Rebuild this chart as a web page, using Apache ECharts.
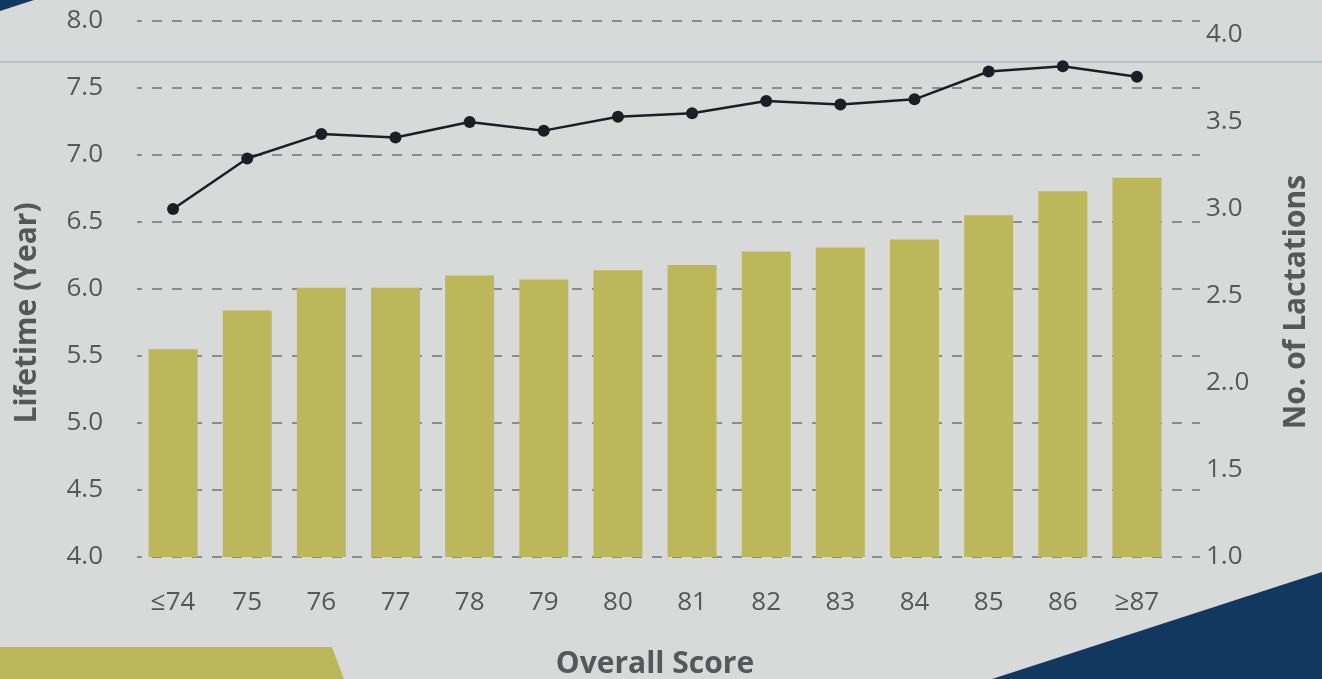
<!DOCTYPE html>
<html>
<head>
<meta charset="utf-8">
<title>Lifetime and Lactations by Overall Score</title>
<script src="https://cdn.jsdelivr.net/npm/echarts@6/dist/echarts.min.js"></script>
<style>
  html, body { margin: 0; padding: 0; background: #d8dad9; }
  #chart { width: 1322px; height: 679px; }
</style>
</head>
<body>
<div id="chart"></div>
<script>
  // data
  var scores = ['≤74', '75', '76', '77', '78', '79', '80', '81', '82', '83', '84', '85', '86', '≥87'];
  var lifetime = [5.55, 5.84, 6.01, 6.01, 6.10, 6.07, 6.14, 6.18, 6.28, 6.31, 6.37, 6.55, 6.73, 6.83];
  var lactations = [3.00, 3.29, 3.43, 3.41, 3.50, 3.45, 3.53, 3.55, 3.62, 3.60, 3.63, 3.79, 3.82, 3.76];
  var leftTicks = ['4.0', '4.5', '5.0', '5.5', '6.0', '6.5', '7.0', '7.5', '8.0'];
  var rightTicks = ['1.0', '1.5', '2..0', '2.5', '3.0', '3.5', '4.0'];

  var textColor = '#555759';
  var font = 'Open Sans';

  var chart = echarts.init(document.getElementById('chart'));
  chart.setOption({
    backgroundColor: '#d8dad9',
    animation: false,
    graphic: [
      { type: 'line', z: 0, shape: { x1: 0, y1: 62, x2: 1322, y2: 62 }, style: { stroke: '#9eabbf', lineWidth: 1 } },
      { type: 'polygon', z: 0, shape: { points: [[0, 0], [34, 0], [0, 11]] }, style: { fill: '#133860' } },
      { type: 'polygon', z: 0, shape: { points: [[992, 679], [1322, 572], [1322, 679]] }, style: { fill: '#133860' } },
      { type: 'polygon', z: 0, shape: { points: [[0, 647], [332, 647], [344, 679], [0, 679]] }, style: { fill: '#bdb75c' } }
    ],
    grid: [
      // grid 0 only carries the left axis and its dashed lines
      { left: 137, right: 122, top: 21, bottom: 122, outerBoundsMode: 'none' },
      // grid 1 holds bars and the line
      { left: 136, right: 148, top: 21, bottom: 122, outerBoundsMode: 'none' }
    ],
    xAxis: [
      { gridIndex: 0, type: 'value', show: false },
      {
        gridIndex: 1,
        type: 'category',
        data: scores,
        axisLine: { show: false },
        axisTick: { show: false },
        axisLabel: { margin: 33, color: textColor, fontFamily: font, fontSize: 26 },
        name: 'Overall Score',
        nameLocation: 'middle',
        nameGap: 92,
        nameTextStyle: { color: textColor, fontFamily: font, fontSize: 30, fontWeight: 'bold' }
      }
    ],
    yAxis: [
      {
        gridIndex: 0,
        type: 'value',
        min: 4,
        max: 8,
        interval: 0.5,
        axisLine: { show: false },
        axisTick: { show: false },
        axisLabel: {
          margin: 34, color: textColor, fontFamily: font, fontSize: 26,
          formatter: function (v) { return leftTicks[Math.round((v - 4) / 0.5)] || ''; }
        },
        splitLine: { lineStyle: { color: '#8c8c8c', width: 2, type: [10, 10], dashOffset: 5 } },
        name: 'Lifetime (Year)',
        nameLocation: 'middle',
        nameGap: 95,
        nameTextStyle: { color: textColor, fontFamily: font, fontSize: 30, fontWeight: 'bold', padding: [0, 48, 0, 0] }
      },
      { gridIndex: 1, type: 'value', min: 4, max: 8, show: false },
      {
        gridIndex: 1,
        type: 'value',
        position: 'right',
        min: 1,
        max: 4.08,
        interval: 0.5,
        axisLine: { show: false },
        axisTick: { show: false },
        splitLine: { show: false },
        axisLabel: {
          margin: 32, color: textColor, fontFamily: font, fontSize: 26,
          formatter: function (v) {
            if (Math.abs(v * 2 - Math.round(v * 2)) > 1e-6) return '';
            return rightTicks[Math.round((v - 1) / 0.5)] || '';
          }
        },
        name: 'No. of Lactations',
        nameLocation: 'middle',
        nameRotate: 90,
        nameGap: 107,
        nameTextStyle: { color: textColor, fontFamily: font, fontSize: 30, fontWeight: 'bold', padding: [0, 26, 0, 0] }
      }
    ],
    series: [
      {
        name: 'Lifetime (Year)',
        type: 'bar',
        xAxisIndex: 1,
        yAxisIndex: 1,
        barWidth: 49,
        itemStyle: { color: '#bdb75c' },
        data: lifetime
      },
      {
        name: 'No. of Lactations',
        type: 'line',
        xAxisIndex: 1,
        yAxisIndex: 2,
        symbol: 'circle',
        symbolSize: 12,
        lineStyle: { color: '#1c1e24', width: 2.5 },
        itemStyle: { color: '#1c1e24' },
        data: lactations
      }
    ]
  });
</script>
</body>
</html>
